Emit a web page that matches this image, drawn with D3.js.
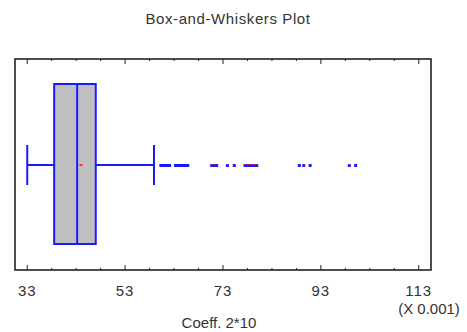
<!DOCTYPE html>
<html>
<head>
<meta charset="utf-8">
<script src="https://cdn.jsdelivr.net/npm/d3@7"></script>
<style>
	body { margin: 0; background: #fff; }
	svg text { font-family: 'Liberation Sans', Arial, sans-serif; fill: #333; }
</style>
</head>
<body>
<div id="chart"></div>
<script>
// summary of Coeff. 2*10 (values in units of 0.001)
const boxStats = { min: 33.0, q1: 38.5, median: 43.2, q3: 47.0, max: 58.9 }
const meanValue = 44.0
const nearOutliers = [60.3, 60.6, 60.9, 61.2, 61.5, 61.8, 62.1, 63.3, 63.6, 63.9, 64.2, 64.5, 64.9, 65.2, 65.5, 65.8]
const farOutliers = [70.7, 71.0, 71.3, 71.7, 73.9, 75.3, 77.5, 77.8, 78.1, 78.4, 78.7, 79.0, 79.3, 79.6, 79.9, 88.6, 89.5, 90.8, 98.8, 100.1]
const tickValues = [33, 53, 73, 93, 113]
const title = 'Box-and-Whiskers Plot'
const xLabel = 'Coeff. 2*10'
const scaleNote = '(X 0.001)'

const W = 467, H = 332
const plot = { left: 15, right: 431, top: 59, bottom: 270 }

const svg = d3.select('#chart').append('svg').attr('width', W).attr('height', H)

const x = d3.scaleLinear().domain([30.5, 115.5]).range([plot.left, plot.right])
const midY = 165
const boxTop = 84, boxBottom = 244
const capHalf = 20

svg.append('text')
	.attr('x', 228).attr('y', 24)
	.attr('text-anchor', 'middle')
	.style('font-size', '15px')
	.style('letter-spacing', '0.6px')
	.text(title)

// frame
svg.append('rect')
	.attr('x', plot.left).attr('y', plot.top)
	.attr('width', plot.right - plot.left).attr('height', plot.bottom - plot.top)
	.attr('fill', 'none').attr('stroke', '#222').attr('stroke-width', 1.6)

// ticks (major + minor every 5) on bottom and top, pointing inward
const minor = d3.range(33, 116, 5)
const tickG = svg.append('g').attr('stroke', '#222').attr('stroke-width', 1)
minor.forEach((v) => {
	const len = tickValues.includes(v) ? 5 : 2
	tickG.append('line').attr('x1', x(v)).attr('x2', x(v)).attr('y1', plot.bottom).attr('y2', plot.bottom - len)
	tickG.append('line').attr('x1', x(v)).attr('x2', x(v)).attr('y1', plot.top).attr('y2', plot.top + len)
})

svg.selectAll('.tickLabel')
	.data(tickValues)
	.enter()
	.append('text')
	.attr('class', 'tickLabel')
	.attr('x', (d) => x(d))
	.attr('y', 296)
	.attr('text-anchor', 'middle')
	.style('font-size', '15px')
	.style('letter-spacing', '1px')
	.text((d) => d)

svg.append('text')
	.attr('x', 429).attr('y', 314)
	.attr('text-anchor', 'middle')
	.style('font-size', '15px')
	.text(scaleNote)

svg.append('text')
	.attr('x', 219).attr('y', 328)
	.attr('text-anchor', 'middle')
	.style('font-size', '15px')
	.text(xLabel)

// whiskers
const blue = '#1a1aff'
const wG = svg.append('g').attr('stroke', blue).attr('stroke-width', 2)
wG.append('line').attr('x1', x(boxStats.min)).attr('x2', x(boxStats.q1)).attr('y1', midY).attr('y2', midY)
wG.append('line').attr('x1', x(boxStats.q3)).attr('x2', x(boxStats.max)).attr('y1', midY).attr('y2', midY)
wG.append('line').attr('x1', x(boxStats.min)).attr('x2', x(boxStats.min)).attr('y1', midY - capHalf).attr('y2', midY + capHalf)
wG.append('line').attr('x1', x(boxStats.max)).attr('x2', x(boxStats.max)).attr('y1', midY - capHalf).attr('y2', midY + capHalf)

// box
svg.append('rect')
	.attr('x', x(boxStats.q1)).attr('y', boxTop)
	.attr('width', x(boxStats.q3) - x(boxStats.q1)).attr('height', boxBottom - boxTop)
	.attr('fill', '#c0c0c0').attr('stroke', blue).attr('stroke-width', 2)
svg.append('line')
	.attr('x1', x(boxStats.median)).attr('x2', x(boxStats.median))
	.attr('y1', boxTop).attr('y2', boxBottom)
	.attr('stroke', blue).attr('stroke-width', 2)

// mean
svg.append('rect')
	.attr('x', x(meanValue) - 1.5).attr('y', midY - 1)
	.attr('width', 3).attr('height', 2)
	.attr('fill', '#ff3030')

// outliers
svg.selectAll('.nearOut')
	.data(nearOutliers)
	.enter()
	.append('rect')
	.attr('class', 'nearOut')
	.attr('x', (d) => x(d) - 1.5).attr('y', midY - 1)
	.attr('width', 3).attr('height', 3)
	.attr('fill', blue)

svg.selectAll('.farOut')
	.data(farOutliers)
	.enter()
	.append('rect')
	.attr('class', 'farOut')
	.attr('x', (d) => x(d) - 1.5).attr('y', midY - 1)
	.attr('width', 3).attr('height', 3)
	.attr('fill', blue)

svg.selectAll('.farMark')
	.data(farOutliers.filter((d, i) => i % 2 === 0))
	.enter()
	.append('rect')
	.attr('class', 'farMark')
	.attr('x', (d) => x(d) - 0.5).attr('y', midY - 1)
	.attr('width', 1.5).attr('height', 1)
	.attr('fill', '#ff2020')
</script>
</body>
</html>
